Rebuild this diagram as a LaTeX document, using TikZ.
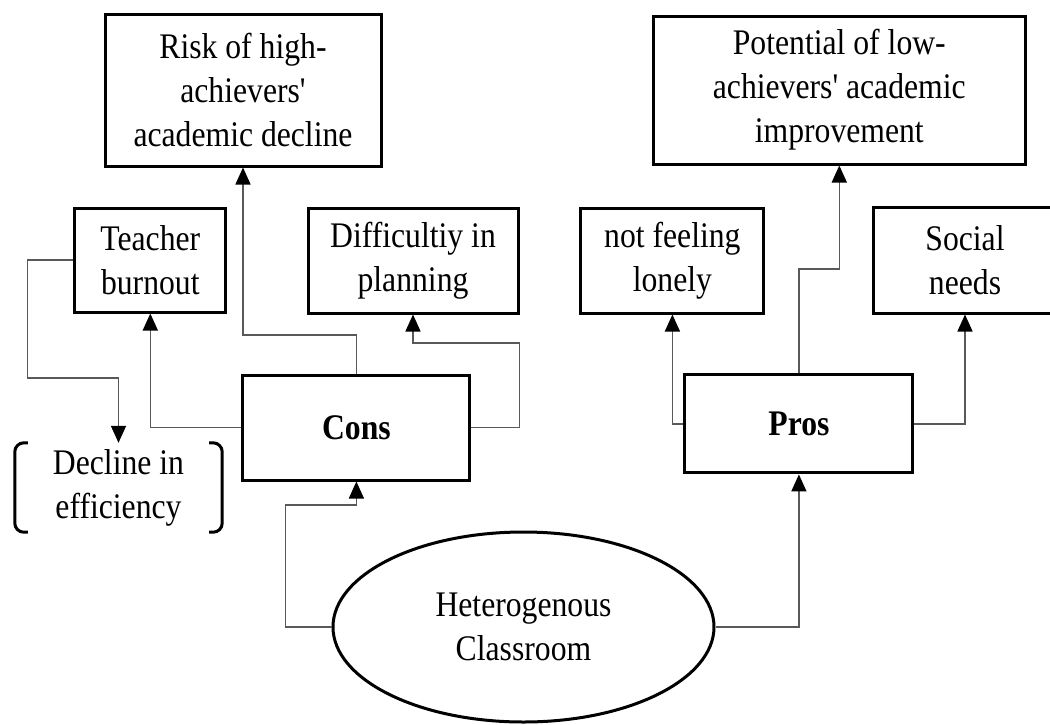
\documentclass[tikz,border=0pt]{standalone}
\usepackage{fontspec}
\setmainfont{Liberation Serif}[FakeStretch=0.88,Ligatures=TeXOff]
\usetikzlibrary{shapes.geometric,arrows.meta}
\begin{document}
\begin{tikzpicture}[x=1pt,y=-1pt,
  txt/.style={align=center,inner sep=0pt,font=\fontsize{36}{44}\selectfont},
  box/.style={txt,draw=black,line width=3pt,rectangle},
  conn/.style={draw=black!65,line width=1.5pt},
  arr/.style={conn,-{Triangle[length=17pt,width=15pt,color=black]}},
  brk/.style={draw=black,line width=3pt,rounded corners=9pt}
]
\useasboundingbox (0,0) rectangle (1050,724);
\clip (0,0) rectangle (1050,724);

\node[box,minimum width=276pt,minimum height=152pt] (risk) at (243,90) {Risk of high-\\achievers'\\academic decline};
\node[box,minimum width=372pt,minimum height=148pt] (pot) at (839.3,90) {Potential of low-\\achievers' academic\\improvement};
\node[box,minimum width=151pt,minimum height=104pt] (teacher) at (150.3,260) {Teacher\\burnout};
\node[box,minimum width=210pt,minimum height=105pt] (diff) at (413,260.5) {Difficultiy in\\planning};
\node[box,minimum width=183pt,minimum height=105pt] (lonely) at (672.4,260.5) {not feeling\\lonely};
\node[box,minimum width=184pt,minimum height=106pt] (social) at (965,260) {Social\\needs};
\node[box,minimum width=227pt,minimum height=105pt] (cons) at (356.4,427.5) {\bfseries Cons};
\node[box,minimum width=228pt,minimum height=98pt] (pros) at (798.9,423.9) {\bfseries Pros};
\node[txt,rectangle,minimum width=207pt,minimum height=89pt] (decl) at (118.5,487.5) {Decline in\\efficiency};
\node[txt,ellipse,draw=black,line width=3pt,minimum width=381pt,minimum height=190pt,inner sep=0pt] (het) at (523.5,627) {Heterogenous\\Classroom};

% brackets around "Decline in efficiency"
\draw[brk] ([xshift=13pt]decl.north west) -- (decl.north west) -- (decl.south west) -- ([xshift=13pt]decl.south west);
\draw[brk] ([xshift=-13pt]decl.north east) -- (decl.north east) -- (decl.south east) -- ([xshift=-13pt]decl.south east);

\coordinate (c1) at (0,335);
\coordinate (c2) at (0,343);
\coordinate (c3) at (27.5,378);
\coordinate (c4) at (285.6,505);
\coordinate (c5) at (0,269);

\draw[arr] (cons.north) |- (risk.south |- c1) -- (risk.south);
\draw[arr] (cons.west) -| (teacher.south);
\draw[arr] (cons.east) -| (diff.east |- c2) -- (diff.south |- c2) -- (diff.south);
\draw[arr] (teacher.west) -| (c3) -| (decl.north);
\draw[arr] (het.west) -| (c4) -| (cons.south);
\draw[arr] (het.east) -| (pros.south);
\draw[arr] (pros.west) -| (lonely.south);
\draw[arr] (pros.east) -| (social.south);
\draw[arr] (pros.north) |- (pot.south |- c5) -- (pot.south);
\end{tikzpicture}
\end{document}
